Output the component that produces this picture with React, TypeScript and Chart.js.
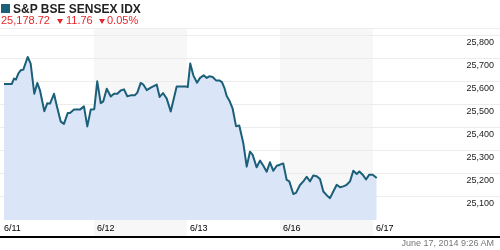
import React, { useEffect, useRef } from "react";
import { Chart, registerables } from "chart.js";

Chart.register(...registerables);

// Day labels (one session per label) and tick positions in "trading days"
const dateLabels = ["6/11", "6/12", "6/13", "6/16", "6/17"];
const dayTicks = [0, 1, 2, 3, 4];
const shadedDays = [1, 3];
const yTickValues = [25100, 25200, 25300, 25400, 25500, 25600, 25700, 25800];

// Intraday samples: time in trading days (session start = integer) and index level
const times = [
  0.032, 0.115, 0.14, 0.161, 0.186, 0.212, 0.24, 0.287, 0.319, 0.358, 0.39, 0.419, 0.466, 0.498,
  0.527, 0.57, 0.599, 0.642, 0.677, 0.717, 0.742, 0.785, 0.849, 0.892, 0.928, 0.965, 1.003,
  1.035, 1.072, 1.1, 1.137, 1.18, 1.215, 1.251, 1.287, 1.323, 1.358, 1.395, 1.438, 1.466, 1.502,
  1.53, 1.567, 1.61, 1.674, 1.706, 1.742, 1.782, 1.825, 1.889, 1.986, 2.008,
  2.035, 2.068, 2.108, 2.14, 2.18, 2.212, 2.24, 2.276, 2.312, 2.347, 2.376, 2.401, 2.427, 2.455,
  2.491, 2.527, 2.562, 2.605, 2.642, 2.677, 2.706, 2.749, 2.785, 2.821, 2.857, 2.892, 2.928,
  2.965, 2.992, 3.005,
  3.035, 3.072, 3.1, 3.143, 3.172, 3.215, 3.251, 3.287, 3.323, 3.358, 3.395, 3.43, 3.466, 3.502,
  3.538, 3.573, 3.61, 3.645, 3.681, 3.717, 3.753, 3.788, 3.825, 3.853, 3.889, 3.925, 3.96, 3.997,
  4.04,
];
const values = [
  25587, 25587, 25611, 25607, 25633, 25647, 25650, 25705, 25676, 25545, 25592, 25560, 25469, 25504,
  25502, 25545, 25494, 25424, 25414, 25461, 25461, 25476, 25476, 25490, 25403, 25476, 25478,
  25599, 25504, 25512, 25567, 25533, 25545, 25545, 25559, 25564, 25534, 25538, 25538, 25550, 25592,
  25585, 25561, 25572, 25585, 25531, 25548, 25524, 25468, 25577, 25577, 25574,
  25677, 25625, 25593, 25614, 25625, 25614, 25621, 25618, 25603, 25603, 25596, 25572, 25535, 25516,
  25480, 25404, 25407, 25331, 25228, 25293, 25279, 25225, 25254, 25232, 25206, 25247, 25210,
  25232, 25235, 25238,
  25242, 25170, 25164, 25109, 25114, 25148, 25164, 25184, 25164, 25189, 25186, 25174, 25120, 25104,
  25091, 25120, 25149, 25138, 25142, 25149, 25164, 25210, 25196, 25207, 25193, 25172, 25193, 25193,
  25178.72,
];

const title = "S&P BSE SENSEX IDX";
const lastPrice = "25,178.72";
const change = "11.76";
const changePct = "0.05%";
const stamp = "June 17, 2014 9:26 AM";

const FONT = "Arial, 'Liberation Sans', sans-serif";
const AXIS_LINE_Y = 236;

const decorPlugin = {
  id: "decor",
  beforeDraw(chart: any) {
    const { ctx, chartArea, scales } = chart;
    const x = scales.x;
    ctx.save();
    ctx.fillStyle = "#f7f7f7";
    shadedDays.forEach((d) => {
      const x0 = x.getPixelForValue(d);
      const x1 = x.getPixelForValue(d + 1);
      ctx.fillRect(x0, chartArea.top, x1 - x0, AXIS_LINE_Y - chartArea.top);
    });
    ctx.fillStyle = "#eeeeee";
    ctx.fillRect(chartArea.left, chartArea.top, chartArea.right - chartArea.left, 1);
    ctx.restore();
  },
  afterDraw(chart: any) {
    const { ctx, width } = chart;
    ctx.save();
    ctx.fillStyle = "#000000";
    ctx.fillRect(0, AXIS_LINE_Y, width, 2);
    ctx.restore();
  },
};

function Tri({ left }: { left: number }) {
  return (
    <div
      style={{
        position: "absolute",
        left,
        top: 19,
        width: 0,
        height: 0,
        borderLeft: "3.5px solid transparent",
        borderRight: "3.5px solid transparent",
        borderTop: "5px solid #e5262b",
      }}
    />
  );
}

export default function App() {
  const ref = useRef<HTMLCanvasElement | null>(null);

  useEffect(() => {
    if (!ref.current) return;
    const chart = new Chart(ref.current, {
      type: "line",
      data: {
        datasets: [
          {
            data: times.map((t, i) => ({ x: t, y: values[i] })),
            borderColor: "#1b5f79",
            borderWidth: 2,
            backgroundColor: "#dae5f8",
            fill: "start",
            pointRadius: 0,
            tension: 0,
            borderJoinStyle: "round",
          },
        ],
      },
      options: {
        animation: false,
        responsive: false,
        devicePixelRatio: 1,
        events: [],
        layout: { padding: { top: 28, bottom: 13, left: 0, right: 0 } },
        plugins: { legend: { display: false }, tooltip: { enabled: false }, title: { display: false } },
        scales: {
          x: {
            type: "linear",
            min: -1 / 93,
            max: 499 / 93,
            grid: { display: false, drawTicks: false },
            border: { display: false },
            afterBuildTicks: (scale: any) => {
              scale.ticks = dayTicks.map((v) => ({ value: v }));
            },
            afterFit: (scale: any) => {
              scale.paddingLeft = 0;
              scale.paddingRight = 0;
            },
            ticks: {
              align: "start",
              labelOffset: 3,
              padding: 3,
              maxRotation: 0,
              autoSkip: false,
              color: "#000000",
              font: { family: FONT, size: 9 },
              callback: (v: any) => dateLabels[v as number] ?? "",
            },
          },
          y: {
            type: "linear",
            position: "right",
            min: 24995,
            max: 25831,
            grid: { color: "#ececec", lineWidth: 1, drawTicks: false },
            border: { display: false },
            afterBuildTicks: (scale: any) => {
              scale.ticks = yTickValues.map((v) => ({ value: v }));
            },
            afterFit: (scale: any) => {
              scale.width = 0;
              scale.paddingTop = 0;
              scale.paddingBottom = 0;
            },
            ticks: {
              mirror: true,
              padding: -6,
              labelOffset: 7,
              color: "#222222",
              font: { family: FONT, size: 9 },
              callback: (v: any) => Number(v).toLocaleString("en-US"),
            },
          },
        },
      },
      plugins: [decorPlugin],
    } as any);
    return () => chart.destroy();
  }, []);

  return (
    <div style={{ position: "absolute", left: 0, top: 0, width: 500, height: 250, background: "#fff", fontFamily: FONT }}>
      <canvas ref={ref} width={500} height={250} style={{ position: "absolute", left: 0, top: 0 }} />
      <div style={{ position: "absolute", left: 1, top: 4, width: 9, height: 9, background: "#1b5f79" }} />
      <div style={{ position: "absolute", left: 13, top: 3, fontSize: 12, lineHeight: "12px", fontWeight: "bold", color: "#222", whiteSpace: "nowrap" }}>
        {title}
      </div>
      <div style={{ position: "absolute", left: 1, top: 15, fontSize: 11, lineHeight: "11px", color: "#e5262b", whiteSpace: "nowrap" }}>
        {lastPrice}
      </div>
      <Tri left={57} />
      <div style={{ position: "absolute", left: 66, top: 15, fontSize: 11, lineHeight: "11px", color: "#e5262b", whiteSpace: "nowrap" }}>
        {change}
      </div>
      <Tri left={99} />
      <div style={{ position: "absolute", left: 107, top: 15, fontSize: 11, lineHeight: "11px", color: "#e5262b", whiteSpace: "nowrap" }}>
        {changePct}
      </div>
      <div style={{ position: "absolute", right: 6, top: 238, fontSize: 9, lineHeight: "11px", color: "#777", whiteSpace: "nowrap" }}>
        {stamp}
      </div>
    </div>
  );
}
